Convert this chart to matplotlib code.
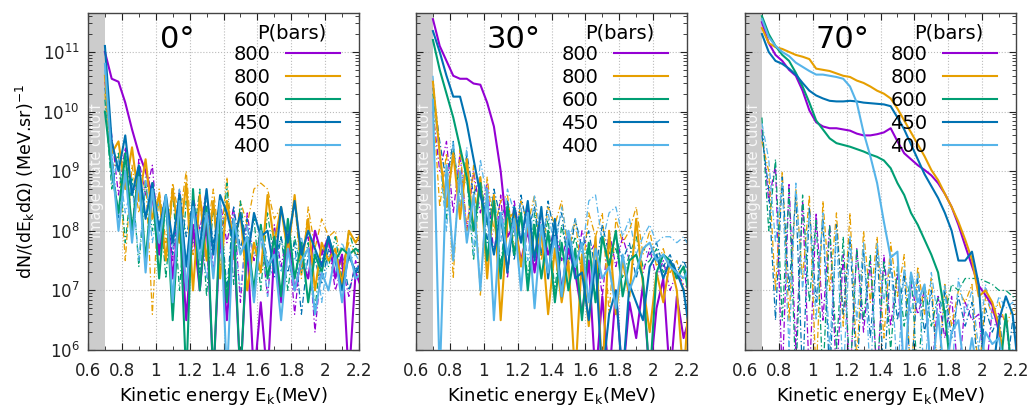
import numpy as np
import matplotlib
matplotlib.use('Agg')
import matplotlib.pyplot as plt
from matplotlib.ticker import MultipleLocator, FuncFormatter, LogLocator, NullFormatter

# energy grid (MeV) shared by all spectra
energy = [0.70, 0.74, 0.78, 0.82, 0.86, 0.90, 0.94, 0.98, 1.02, 1.06,
          1.10, 1.14, 1.18, 1.22, 1.26, 1.30, 1.34, 1.38, 1.42, 1.46,
          1.50, 1.54, 1.58, 1.62, 1.66, 1.70, 1.74, 1.78, 1.82, 1.86,
          1.90, 1.94, 1.98, 2.02, 2.06, 2.10, 2.14, 2.18, 2.22]

pressures = ['800', '800', '600', '450', '400']
angles = ['0°', '30°', '70°']

# log10 of dN/(dE dOmega)
# ---- 0 deg, solid
p0_solid = [11.0, 10.55, 10.5, 10.15, 9.7, 9.3, 9.0, 8.6, 7.6, 8.5, 7.2, 8.3, 6.5, 8.1, 7.0, 8.2, 5.5, 8.0, 6.5, 7.9,
            5.5, 7.8, 5.5, 6.8, 5.5, 7.7, 6.8, 7.9, 7.0, 7.5, 7.2, 8.0, 7.6, 7.9, 7.2, 7.6, 5.5, 7.3, 7.0]
o0_solid = [10.6, 9.3, 9.5, 8.7, 9.4, 8.5, 9.2, 8.2, 8.6, 7.5, 8.7, 7.8, 8.8, 7.0, 8.6, 7.5, 8.5, 7.2, 8.5, 7.8,
            8.3, 7.0, 7.8, 7.3, 8.6, 7.8, 8.4, 7.6, 8.6, 7.4, 8.2, 7.0, 7.8, 7.5, 7.7, 7.1, 8.0, 7.8, 8.0]
g0_solid = [10.0, 9.0, 8.3, 9.3, 8.0, 9.0, 7.5, 8.8, 7.2, 8.6, 6.5, 8.4, 5.5, 8.7, 7.0, 8.4, 5.5, 8.2, 6.8, 8.1,
            5.5, 7.9, 7.0, 8.1, 7.2, 7.9, 6.9, 8.2, 7.2, 7.8, 6.8, 7.6, 7.3, 7.9, 7.5, 7.7, 7.6, 7.7, 7.6]
b0_solid = [11.1, 9.5, 9.0, 9.6, 8.6, 9.1, 8.2, 8.8, 8.0, 8.6, 7.8, 8.6, 7.4, 8.5, 7.7, 8.7, 7.6, 8.6, 8.3, 7.8,
            8.3, 7.5, 8.3, 7.9, 8.0, 7.3, 8.4, 7.8, 8.5, 7.6, 8.0, 7.7, 7.4, 7.9, 7.5, 7.0, 7.6, 7.3, 7.5]
l0_solid = [10.8, 9.2, 8.0, 9.0, 7.8, 8.9, 7.3, 8.7, 7.8, 8.6, 6.8, 8.5, 7.0, 8.4, 7.5, 8.3, 7.2, 8.5, 5.5, 8.2,
            7.6, 7.9, 6.8, 8.0, 7.4, 7.6, 6.5, 7.7, 7.0, 7.5, 7.7, 6.6, 7.3, 7.0, 7.6, 6.8, 7.7, 7.2, 7.3]
# ---- 0 deg, dash-dot
p0_dash = [10.5, 9.6, 8.6, 9.4, 8.0, 9.2, 8.6, 9.1, 7.7, 8.6, 7.5, 8.7, 7.0, 8.6, 8.0, 8.7, 7.3, 8.5, 7.8, 8.4,
           6.8, 8.3, 7.5, 8.0, 6.9, 8.1, 7.4, 8.0, 6.6, 7.7, 7.9, 6.3, 7.5, 7.8, 7.0, 7.4, 6.9, 7.5, 7.2]
o0_dash = [10.3, 9.0, 9.3, 7.5, 9.1, 8.3, 8.9, 6.6, 8.7, 7.8, 8.8, 8.2, 9.0, 7.6, 8.6, 7.9, 8.7, 7.7, 8.9, 7.5,
           8.5, 8.1, 8.7, 8.8, 8.7, 8.2, 8.4, 7.6, 8.5, 7.2, 8.4, 7.7, 8.2, 7.9, 8.0, 7.4, 7.8, 7.6, 7.7]
g0_dash = [10.2, 8.7, 9.3, 7.8, 8.9, 7.4, 8.8, 8.0, 8.6, 7.2, 8.7, 7.0, 8.5, 7.8, 8.7, 6.9, 8.4, 7.3, 8.8, 7.1,
           8.5, 7.6, 8.2, 7.0, 8.3, 7.5, 7.9, 7.0, 7.9, 7.3, 7.8, 6.7, 7.7, 7.4, 7.9, 7.2, 8.0, 7.6, 7.8]
b0_dash = [10.4, 9.3, 8.2, 9.2, 8.6, 8.9, 7.4, 8.8, 8.1, 8.6, 7.6, 8.7, 7.9, 8.5, 7.3, 8.6, 7.8, 8.5, 7.0, 8.4,
           7.7, 8.2, 6.8, 8.1, 7.5, 7.2, 7.9, 7.3, 7.8, 6.6, 7.6, 7.5, 7.1, 7.7, 7.3, 7.6, 7.0, 7.4, 7.2]
l0_dash = [10.7, 8.8, 9.2, 8.3, 8.8, 7.5, 8.9, 7.8, 8.5, 8.2, 7.7, 8.7, 7.4, 8.5, 8.0, 7.2, 8.5, 7.6, 8.3, 7.9,
           7.0, 8.1, 7.6, 7.9, 6.9, 8.0, 7.3, 7.8, 7.5, 7.9, 7.2, 7.7, 6.8, 7.6, 7.3, 7.8, 7.5, 7.6, 7.4]

# ---- 30 deg, solid
p30_solid = [11.55, 11.1, 10.85, 10.6, 10.55, 10.55, 10.47, 10.45, 10.15, 9.75, 9.0, 7.9, 8.1, 7.5, 8.0, 7.3, 8.0, 7.6, 7.9, 7.0,
             7.7, 7.3, 6.6, 7.5, 5.5, 6.9, 5.5, 7.0, 5.5, 6.8, 6.2, 7.1, 5.5, 6.7, 7.2, 5.5, 6.9, 6.2, 6.6]
o30_solid = [10.5, 9.3, 8.4, 9.3, 8.2, 9.2, 8.0, 8.9, 7.2, 8.6, 6.5, 8.2, 8.3, 7.4, 8.1, 7.6, 8.0, 6.6, 7.7, 6.8,
             7.5, 5.5, 7.6, 6.4, 7.9, 5.5, 8.0, 6.6, 7.5, 6.9, 8.2, 7.1, 6.3, 7.3, 6.8, 7.5, 7.0, 5.5, 7.3]
g30_solid = [11.2, 10.7, 10.3, 9.9, 9.4, 8.9, 8.0, 8.8, 7.5, 8.5, 7.2, 8.4, 7.6, 8.3, 7.0, 8.1, 7.2, 8.0, 6.8, 7.8,
             7.0, 7.7, 6.5, 7.8, 6.8, 7.9, 7.4, 8.0, 6.9, 7.5, 7.6, 7.2, 5.5, 7.3, 7.6, 7.5, 7.2, 7.4, 6.8]
b30_solid = [11.35, 11.0, 10.6, 10.25, 10.25, 9.8, 9.2, 8.6, 8.2, 7.6, 8.3, 7.3, 8.4, 7.8, 8.5, 7.5, 8.4, 7.2, 8.2, 6.9,
             7.9, 7.2, 7.3, 6.5, 7.5, 5.5, 6.6, 7.0, 5.5, 7.1, 6.8, 6.5, 7.4, 7.6, 7.2, 7.5, 7.3, 7.0, 6.2]
l30_solid = [10.2, 5.5, 9.1, 7.5, 9.0, 7.8, 8.6, 7.0, 8.7, 6.5, 8.3, 7.6, 8.2, 7.0, 8.3, 6.7, 8.1, 7.3, 7.9, 6.9,
             8.0, 7.4, 7.8, 6.8, 7.7, 7.2, 7.4, 6.7, 7.6, 7.0, 7.3, 7.7, 7.8, 7.5, 7.6, 7.4, 7.3, 7.2, 7.4]
# ---- 30 deg, dash-dot
p30_dash = [10.0, 9.0, 9.5, 8.3, 9.3, 8.0, 9.0, 8.3, 8.8, 7.6, 8.6, 7.2, 8.5, 7.8, 8.4, 7.4, 8.3, 7.6, 8.1, 7.5,
            8.0, 7.3, 8.0, 7.6, 7.8, 6.9, 8.0, 7.4, 7.9, 7.5, 7.6, 7.3, 7.7, 7.2, 7.5, 7.0, 7.3, 7.1, 7.0]
o30_dash = [10.2, 8.4, 9.3, 7.2, 9.4, 8.0, 9.1, 6.9, 8.9, 8.0, 8.5, 8.6, 7.7, 8.5, 8.1, 8.6, 7.5, 8.4, 8.1, 8.5,
            7.6, 8.2, 7.2, 8.3, 7.9, 8.3, 6.6, 8.2, 7.8, 8.0, 8.4, 7.6, 8.0, 7.4, 7.7, 7.3, 7.5, 7.0, 7.2]
g30_dash = [10.3, 9.3, 8.2, 9.4, 8.6, 8.9, 7.5, 8.9, 8.1, 8.6, 7.4, 8.5, 7.9, 8.3, 7.2, 8.3, 7.6, 8.2, 7.0, 8.1,
            7.5, 7.9, 7.3, 7.8, 6.8, 7.9, 7.5, 7.7, 7.2, 7.6, 7.9, 7.4, 7.5, 7.7, 7.3, 7.5, 7.2, 7.4, 7.1]
b30_dash = [10.4, 9.5, 8.8, 9.5, 8.2, 9.3, 8.6, 8.9, 7.8, 8.7, 8.2, 8.5, 7.5, 8.6, 8.0, 8.4, 7.6, 8.5, 7.9, 8.3,
            7.4, 8.2, 7.7, 8.0, 7.3, 8.1, 7.6, 7.9, 7.5, 7.8, 7.2, 7.7, 7.6, 7.8, 7.4, 7.6, 7.3, 7.5, 7.2]
l30_dash = [10.6, 9.2, 8.0, 9.5, 8.4, 9.4, 7.6, 9.2, 8.5, 8.6, 7.8, 8.7, 8.3, 8.4, 7.5, 8.6, 7.9, 8.3, 7.7, 8.4,
            7.8, 8.2, 7.6, 8.5, 8.6, 7.8, 8.3, 8.4, 7.9, 8.2, 7.6, 7.9, 8.1, 7.8, 7.9, 7.9, 7.8, 7.9, 7.7]

# ---- 70 deg, solid
p70_solid = [11.5, 11.15, 10.95, 10.85, 10.7, 10.6, 10.35, 10.02, 9.82, 9.75, 9.72, 9.72, 9.7, 9.68, 9.63, 9.6, 9.6, 9.62, 9.65, 9.72,
             9.5, 9.3, 9.2, 9.1, 9.02, 8.93, 8.8, 8.62, 8.4, 8.1, 7.75, 7.41, 7.08, 6.92, 6.75, 6.3, 5.5, 5.5, 5.5]
o70_solid = [11.4, 11.15, 11.08, 11.05, 11.0, 10.95, 10.92, 10.88, 10.72, 10.7, 10.68, 10.64, 10.6, 10.58, 10.52, 10.48, 10.42, 10.35, 10.3, 10.22,
             10.05, 9.85, 9.65, 9.45, 9.25, 9.02, 8.85, 8.62, 8.4, 8.15, 7.85, 7.52, 6.9, 7.0, 6.8, 6.4, 5.5, 5.5, 5.5]
g70_solid = [11.6, 11.3, 11.1, 10.95, 10.85, 10.65, 10.42, 10.15, 9.85, 9.7, 9.55, 9.47, 9.44, 9.41, 9.37, 9.33, 9.28, 9.24, 9.18, 9.05,
             8.8, 8.6, 8.3, 8.1, 7.85, 7.6, 7.3, 6.6, 5.5, 5.5, 5.5, 5.5, 5.5, 5.5, 5.5, 5.5, 6.6, 5.5, 5.5]
b70_solid = [11.3, 11.0, 10.85, 10.8, 10.72, 10.62, 10.48, 10.35, 10.27, 10.22, 10.18, 10.17, 10.17, 10.18, 10.17, 10.15, 10.14, 10.13, 10.12, 10.09,
             9.9, 9.7, 9.45, 9.2, 8.95, 8.75, 8.55, 8.3, 8.0, 7.5, 7.5, 7.65, 7.1, 5.5, 5.5, 6.5, 6.9, 6.6, 5.5]
l70_solid = [11.55, 11.25, 11.1, 11.0, 10.93, 10.82, 10.75, 10.68, 10.62, 10.62, 10.6, 10.58, 10.55, 10.42, 10.15, 9.65, 9.25, 8.8, 8.15, 7.55,
             7.65, 5.5, 7.3, 6.8, 7.1, 5.5, 6.6, 5.5, 6.3, 6.5, 5.5, 6.2, 5.5, 6.3, 6.1, 6.2, 5.5, 6.0, 5.5]
# ---- 70 deg, dash-dot
p70_dash = [9.7, 8.5, 9.1, 5.5, 8.8, 6.0, 8.5, 5.5, 8.3, 6.5, 8.1, 5.5, 7.6, 5.5, 7.7, 6.3, 7.5, 5.5, 7.6, 6.4,
            7.3, 5.5, 7.1, 6.6, 7.0, 5.5, 6.9, 6.2, 6.9, 5.5, 6.8, 6.5, 6.6, 5.5, 6.7, 6.6, 6.5, 5.5, 6.4]
o70_dash = [9.5, 9.0, 7.0, 9.0, 6.5, 8.7, 7.2, 8.6, 5.5, 8.5, 7.0, 8.3, 6.4, 8.3, 5.8, 8.0, 6.8, 7.9, 6.2, 7.8,
            6.9, 7.6, 5.5, 7.4, 6.6, 7.2, 5.5, 7.1, 6.4, 7.0, 6.8, 7.1, 5.5, 6.9, 6.6, 6.8, 6.4, 6.7, 6.5]
g70_dash = [9.9, 8.0, 9.2, 6.5, 8.7, 5.5, 8.6, 6.8, 8.2, 5.5, 8.1, 6.0, 7.9, 5.5, 7.7, 6.5, 7.6, 5.5, 7.5, 6.0,
            7.4, 6.4, 7.3, 5.5, 7.1, 6.4, 6.9, 6.6, 7.1, 7.0, 7.2, 7.2, 7.2, 7.15, 7.1, 7.0, 7.0, 6.9, 6.8]
b70_dash = [9.6, 8.7, 6.5, 8.9, 7.0, 8.6, 5.5, 8.4, 6.8, 8.2, 5.5, 8.1, 6.6, 7.9, 5.5, 7.7, 6.2, 7.7, 5.5, 7.5,
            6.5, 7.3, 5.5, 7.2, 6.3, 7.0, 5.5, 7.0, 6.2, 6.9, 6.4, 6.8, 5.5, 6.7, 6.3, 6.6, 5.5, 6.5, 6.2]
l70_dash = [9.8, 9.2, 7.8, 8.8, 6.0, 8.8, 7.0, 8.3, 6.5, 8.3, 6.0, 8.0, 5.5, 7.9, 6.5, 7.8, 5.5, 7.8, 6.8, 7.6,
            5.5, 7.4, 6.6, 7.3, 5.5, 7.3, 6.5, 7.1, 5.5, 7.2, 6.6, 7.0, 6.0, 7.1, 6.5, 6.9, 6.7, 6.8, 6.6]

colors = ['#9400D3', '#E69F00', '#009E73', '#0072B2', '#56B4E9']

solid_sets = [[p0_solid, o0_solid, g0_solid, b0_solid, l0_solid],
              [p30_solid, o30_solid, g30_solid, b30_solid, l30_solid],
              [p70_solid, o70_solid, g70_solid, b70_solid, l70_solid]]
dash_sets = [[p0_dash, o0_dash, g0_dash, b0_dash, l0_dash],
             [p30_dash, o30_dash, g30_dash, b30_dash, l30_dash],
             [p70_dash, o70_dash, g70_dash, b70_dash, l70_dash]]

cutoff = 0.70

fig = plt.figure(figsize=(10.33, 4.05), dpi=100)
lefts = [88 / 1033, 416 / 1033, 745 / 1033]
E = np.array(energy)

for i in range(3):
    ax = fig.add_axes([lefts[i], 55 / 405, 271 / 1033, 337 / 405])
    ax.set_yscale('log')

    # image plate cutoff band
    ax.axvspan(0.6, cutoff, color='#cccccc', zorder=0, lw=0)
    ax.text(0.652, 1e9, 'Image plate cutoff', rotation=90, color='white', alpha=0.85,
            ha='center', va='center', fontsize=10.5, zorder=1)

    for vals, c in zip(dash_sets[i], colors):
        ax.plot(E, 10 ** np.array(vals), color=c, lw=0.9, ls=(0, (5, 2, 1, 2)), zorder=2)
    for vals, c, lab in zip(solid_sets[i], colors, pressures):
        ax.plot(E, 10 ** np.array(vals), color=c, lw=1.5, label=lab, zorder=3)

    ax.set_xlim(0.6, 2.2)
    ax.set_ylim(1e6, 4.5e11)

    ax.xaxis.set_major_locator(MultipleLocator(0.2))
    ax.xaxis.set_minor_locator(MultipleLocator(0.1))
    ax.xaxis.set_major_formatter(FuncFormatter(lambda v, p: '%g' % round(v, 1)))
    ax.yaxis.set_major_locator(LogLocator(base=10, numticks=20))
    ax.yaxis.set_minor_locator(LogLocator(base=10, subs=np.arange(2, 10), numticks=20))
    ax.yaxis.set_minor_formatter(NullFormatter())
    if i == 0:
        ax.yaxis.set_major_formatter(FuncFormatter(lambda v, p: '$10^{%d}$' % round(np.log10(v))))
        ax.set_ylabel('dN/(dE$_\\mathregular{k}$d$\\Omega$) (MeV.sr)$^\\mathregular{-1}$', fontsize=12.5)
    else:
        ax.set_yticklabels([])

    ax.tick_params(which='both', direction='in', top=True, right=True, labelsize=12, colors='#222222')
    ax.tick_params(which='major', length=5, width=0.8)
    ax.tick_params(which='minor', length=3, width=0.6)
    ax.tick_params(axis='x', which='major', pad=9)
    ax.tick_params(axis='y', which='major', pad=6)
    ax.grid(True, which='major', color='#bbbbbb', ls=':', lw=0.8)
    for s in ax.spines.values():
        s.set_color('#444444')
        s.set_linewidth(1.0)

    ax.set_xlabel('Kinetic energy E$_\\mathregular{k}$(MeV)', fontsize=13, labelpad=3)

    ax.text(0.33 if i == 0 else 0.36, 0.92, angles[i], transform=ax.transAxes,
            fontsize=22, ha='center', va='center')
    ax.text(0.753, 0.94, 'P(bars)', transform=ax.transAxes, fontsize=14, ha='center', va='center', zorder=6)
    leg = ax.legend(loc='upper right', bbox_to_anchor=(0.93, 0.905), markerfirst=False, frameon=False,
                    fontsize=14, handlelength=2.8, labelspacing=0.2, handletextpad=0.8,
                    borderaxespad=0, borderpad=0)
    leg.set_zorder(5)

fig.savefig('out.png', dpi=100)
